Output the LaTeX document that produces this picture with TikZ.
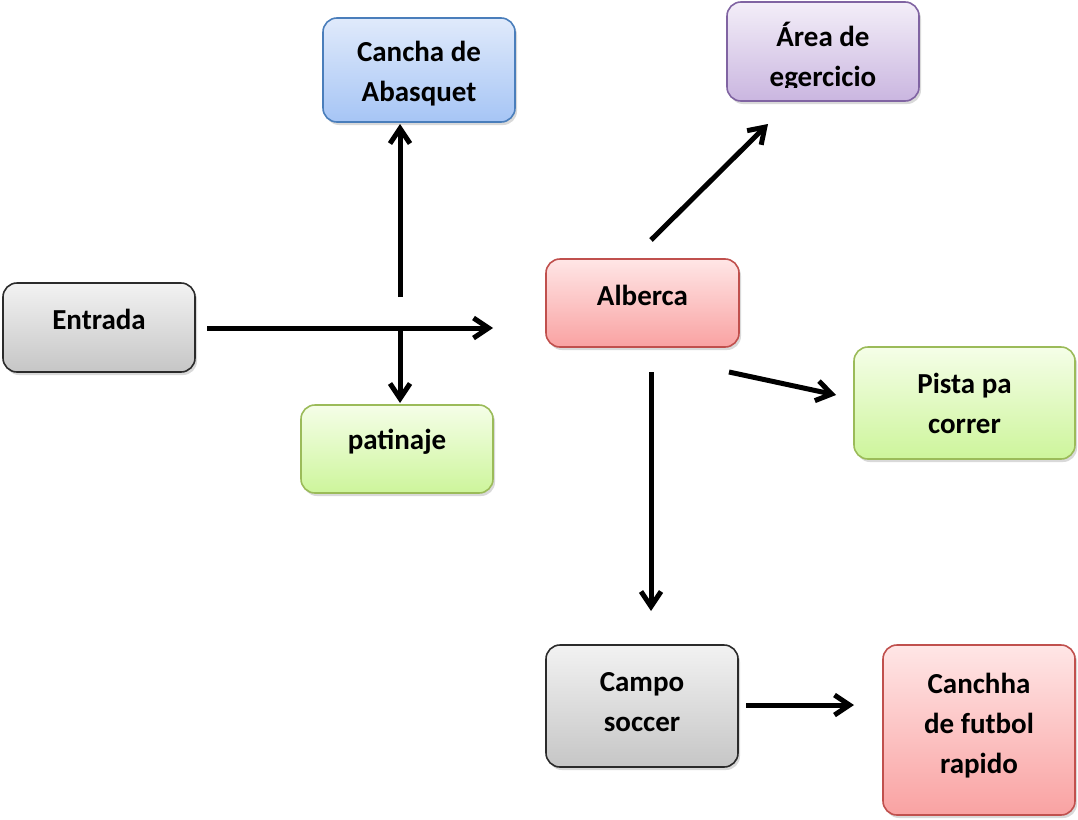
\documentclass[tikz,border=0pt]{standalone}
\usepackage{fontspec}
\setmainfont{Carlito}
\usetikzlibrary{arrows.meta,shadows}
\begin{document}
\begin{tikzpicture}[x=1pt,y=1pt,
  box/.style={rounded corners=14pt, line width=1.6pt, inner sep=0pt, align=center,
    drop shadow={opacity=0.3, shadow xshift=2pt, shadow yshift=-3pt}},
  conn/.style={line width=5pt, -{Straight Barb[length=15pt,width=20pt,line width=5pt]}},
  txt/.style={inner sep=0pt, align=center, font=\fontsize{29}{40}\selectfont\bfseries}
]
\useasboundingbox (0,0) rectangle (1078,-819);
\definecolor{bluedraw}{HTML}{4A7EBB}
\definecolor{bluetop}{HTML}{E0EAFB}
\definecolor{bluebot}{HTML}{A6C5F5}
\definecolor{purdraw}{HTML}{8064A2}
\definecolor{purtop}{HTML}{F3EEF8}
\definecolor{purbot}{HTML}{CAB6E0}
\definecolor{graydraw}{HTML}{2B2B2B}
\definecolor{graytop}{HTML}{F2F2F2}
\definecolor{graybot}{HTML}{C6C6C6}
\definecolor{reddraw}{HTML}{C0504D}
\definecolor{redtop}{HTML}{FFE6E6}
\definecolor{redbot}{HTML}{F9A2A2}
\definecolor{greendraw}{HTML}{9BBB59}
\definecolor{greentop}{HTML}{F5FEE8}
\definecolor{greenbot}{HTML}{CDF59B}

\node[box, draw=bluedraw, top color=bluetop, bottom color=bluebot,
  minimum width=192pt, minimum height=104pt] (abasquet) at (419,-70) {};
\node[txt] (abasquettxt) at (419,-74) {Cancha de\\Abasquet};

\node[box, draw=purdraw, top color=purtop, bottom color=purbot,
  minimum width=192pt, minimum height=99pt] (area) at (823,-51.5) {};
\begin{scope}
  \clip (727,0) rectangle (919,-87);
  \node[txt] (areatxt) at (823,-57) {Área de\\egercicio};
\end{scope}

\node[box, draw=graydraw, top color=graytop, bottom color=graybot,
  minimum width=192pt, minimum height=89pt] (entrada) at (99,-327.5) {};
\node[txt] (entradatxt) at (99,-319) {Entrada};

\node[box, draw=reddraw, top color=redtop, bottom color=redbot,
  minimum width=193pt, minimum height=88pt] (alberca) at (642.5,-303) {};
\node[txt] (albercatxt) at (642.5,-295) {Alberca};

\node[box, draw=greendraw, top color=greentop, bottom color=greenbot,
  minimum width=192pt, minimum height=88pt] (patinaje) at (397,-449) {};
\node[txt] (patinajetxt) at (397,-442) {patinaje};

\node[box, draw=greendraw, top color=greentop, bottom color=greenbot,
  minimum width=221pt, minimum height=112pt] (pista) at (964.5,-403) {};
\node[txt] (pistatxt) at (964.5,-403) {Pista pa\\correr};

\node[box, draw=graydraw, top color=graytop, bottom color=graybot,
  minimum width=192pt, minimum height=122pt] (campo) at (642,-706) {};
\node[txt] (campotxt) at (642,-702) {Campo\\soccer};

\node[box, draw=reddraw, top color=redtop, bottom color=redbot,
  minimum width=192pt, minimum height=170pt] (canchha) at (979,-730) {};
\node[txt] (canchhatxt) at (979,-726) {Canchha\\de futbol\\rapido};

% connector end points
\coordinate (e1) at (207,-328);
\coordinate (e2) at (493,-328);
\coordinate (u1) at (400,-297);
\coordinate (u2) at (400,-124);
\coordinate (d1) at (400,-328);
\coordinate (d2) at (400,-403);
\coordinate (a1) at (651,-240);
\coordinate (a2) at (768,-124);
\coordinate (b1) at (651,-372);
\coordinate (b2) at (651,-611);
\coordinate (p1) at (729,-372);
\coordinate (p2) at (836,-395);
\coordinate (c1) at (746,-705);
\coordinate (c2) at (854,-705);

\draw[conn] (e1) -- (e2);
\draw[conn] (u1) -- (u2);
\draw[conn] (d1) -- (d2);
\draw[conn] (a1) -- (a2);
\draw[conn] (b1) -- (b2);
\draw[conn] (p1) -- (p2);
\draw[conn] (c1) -- (c2);
\end{tikzpicture}
\end{document}
